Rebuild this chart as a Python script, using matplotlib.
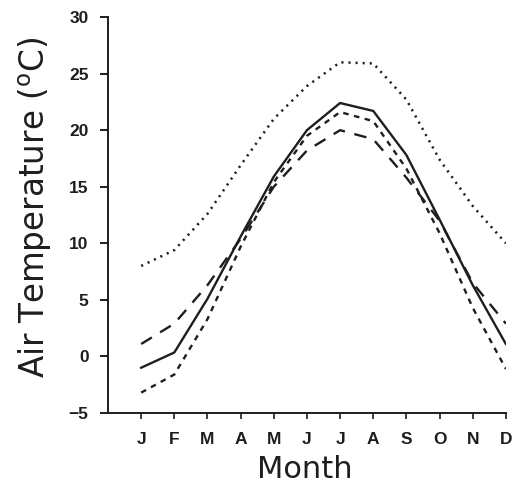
import matplotlib
matplotlib.use("Agg")
import matplotlib.pyplot as plt

plt.rcParams['lines.scale_dashes'] = False

months = ["J", "F", "M", "A", "M", "J", "J", "A", "S", "O", "N", "D"]
month_num = list(range(1, 13))

# monthly mean air temperature (deg C) for four records
solid_series = [-1.0, 0.35, 5.1, 10.6, 15.9, 20.0, 22.4, 21.7, 17.8, 12.1, 6.3, 1.1]
dotted_series = [8.0, 9.4, 12.6, 16.9, 21.0, 23.9, 26.0, 25.9, 22.7, 17.4, 13.3, 10.0]
long_dash_series = [1.1, 2.9, 6.3, 10.4, 15.0, 18.2, 20.0, 19.2, 15.8, 12.0, 6.5, 2.9]
short_dash_series = [-3.2, -1.6, 3.3, 9.7, 15.4, 19.5, 21.6, 20.8, 16.6, 10.9, 4.3, -1.1]

y_ticks = [-5, 0, 5, 10, 15, 20, 25, 30]

fig = plt.figure(figsize=(5.12, 4.87), dpi=100)
ax = fig.add_axes([0.211, 0.152, 0.777, 0.813])

ink = "#1e1e1e"
ax.plot(month_num, solid_series, color=ink, lw=1.7, linestyle="-")
ax.plot(month_num, dotted_series, color=ink, lw=1.8, linestyle=(0, (1.5, 3.6)))
ax.plot(month_num, long_dash_series, color=ink, lw=1.7, linestyle=(0, (9, 7)))
ax.plot(month_num, short_dash_series, color=ink, lw=1.7, linestyle=(0, (4, 4)))

ax.set_xlim(0, 12)
ax.set_ylim(-5, 30)
ax.set_xticks(month_num)
ax.set_xticklabels(months)
ax.set_yticks(y_ticks)

for side in ("top", "right"):
    ax.spines[side].set_visible(False)
for side in ("left", "bottom"):
    ax.spines[side].set_color(ink)
    ax.spines[side].set_linewidth(1.4)

ax.tick_params(axis="y", direction="out", length=6, width=1.4, pad=8, colors=ink)
ax.tick_params(axis="x", direction="out", length=4, width=1.2, pad=10, colors=ink)
for lab in ax.get_xticklabels() + ax.get_yticklabels():
    lab.set_fontfamily("Liberation Sans")
    lab.set_fontweight("bold")
    lab.set_fontsize(12.5)

fig.text(35 / 512, 1 - 207 / 487, r"Air Temperature ($^{\mathrm{o}}$C)",
         rotation=90, ha="center", va="center", fontsize=23.5,
         family="DejaVu Sans", color=ink)
fig.text(305 / 512, 1 - 470 / 487, "Month", ha="center", va="center",
         fontsize=22, family="DejaVu Sans", color=ink)

fig.savefig("out.png", dpi=100)
